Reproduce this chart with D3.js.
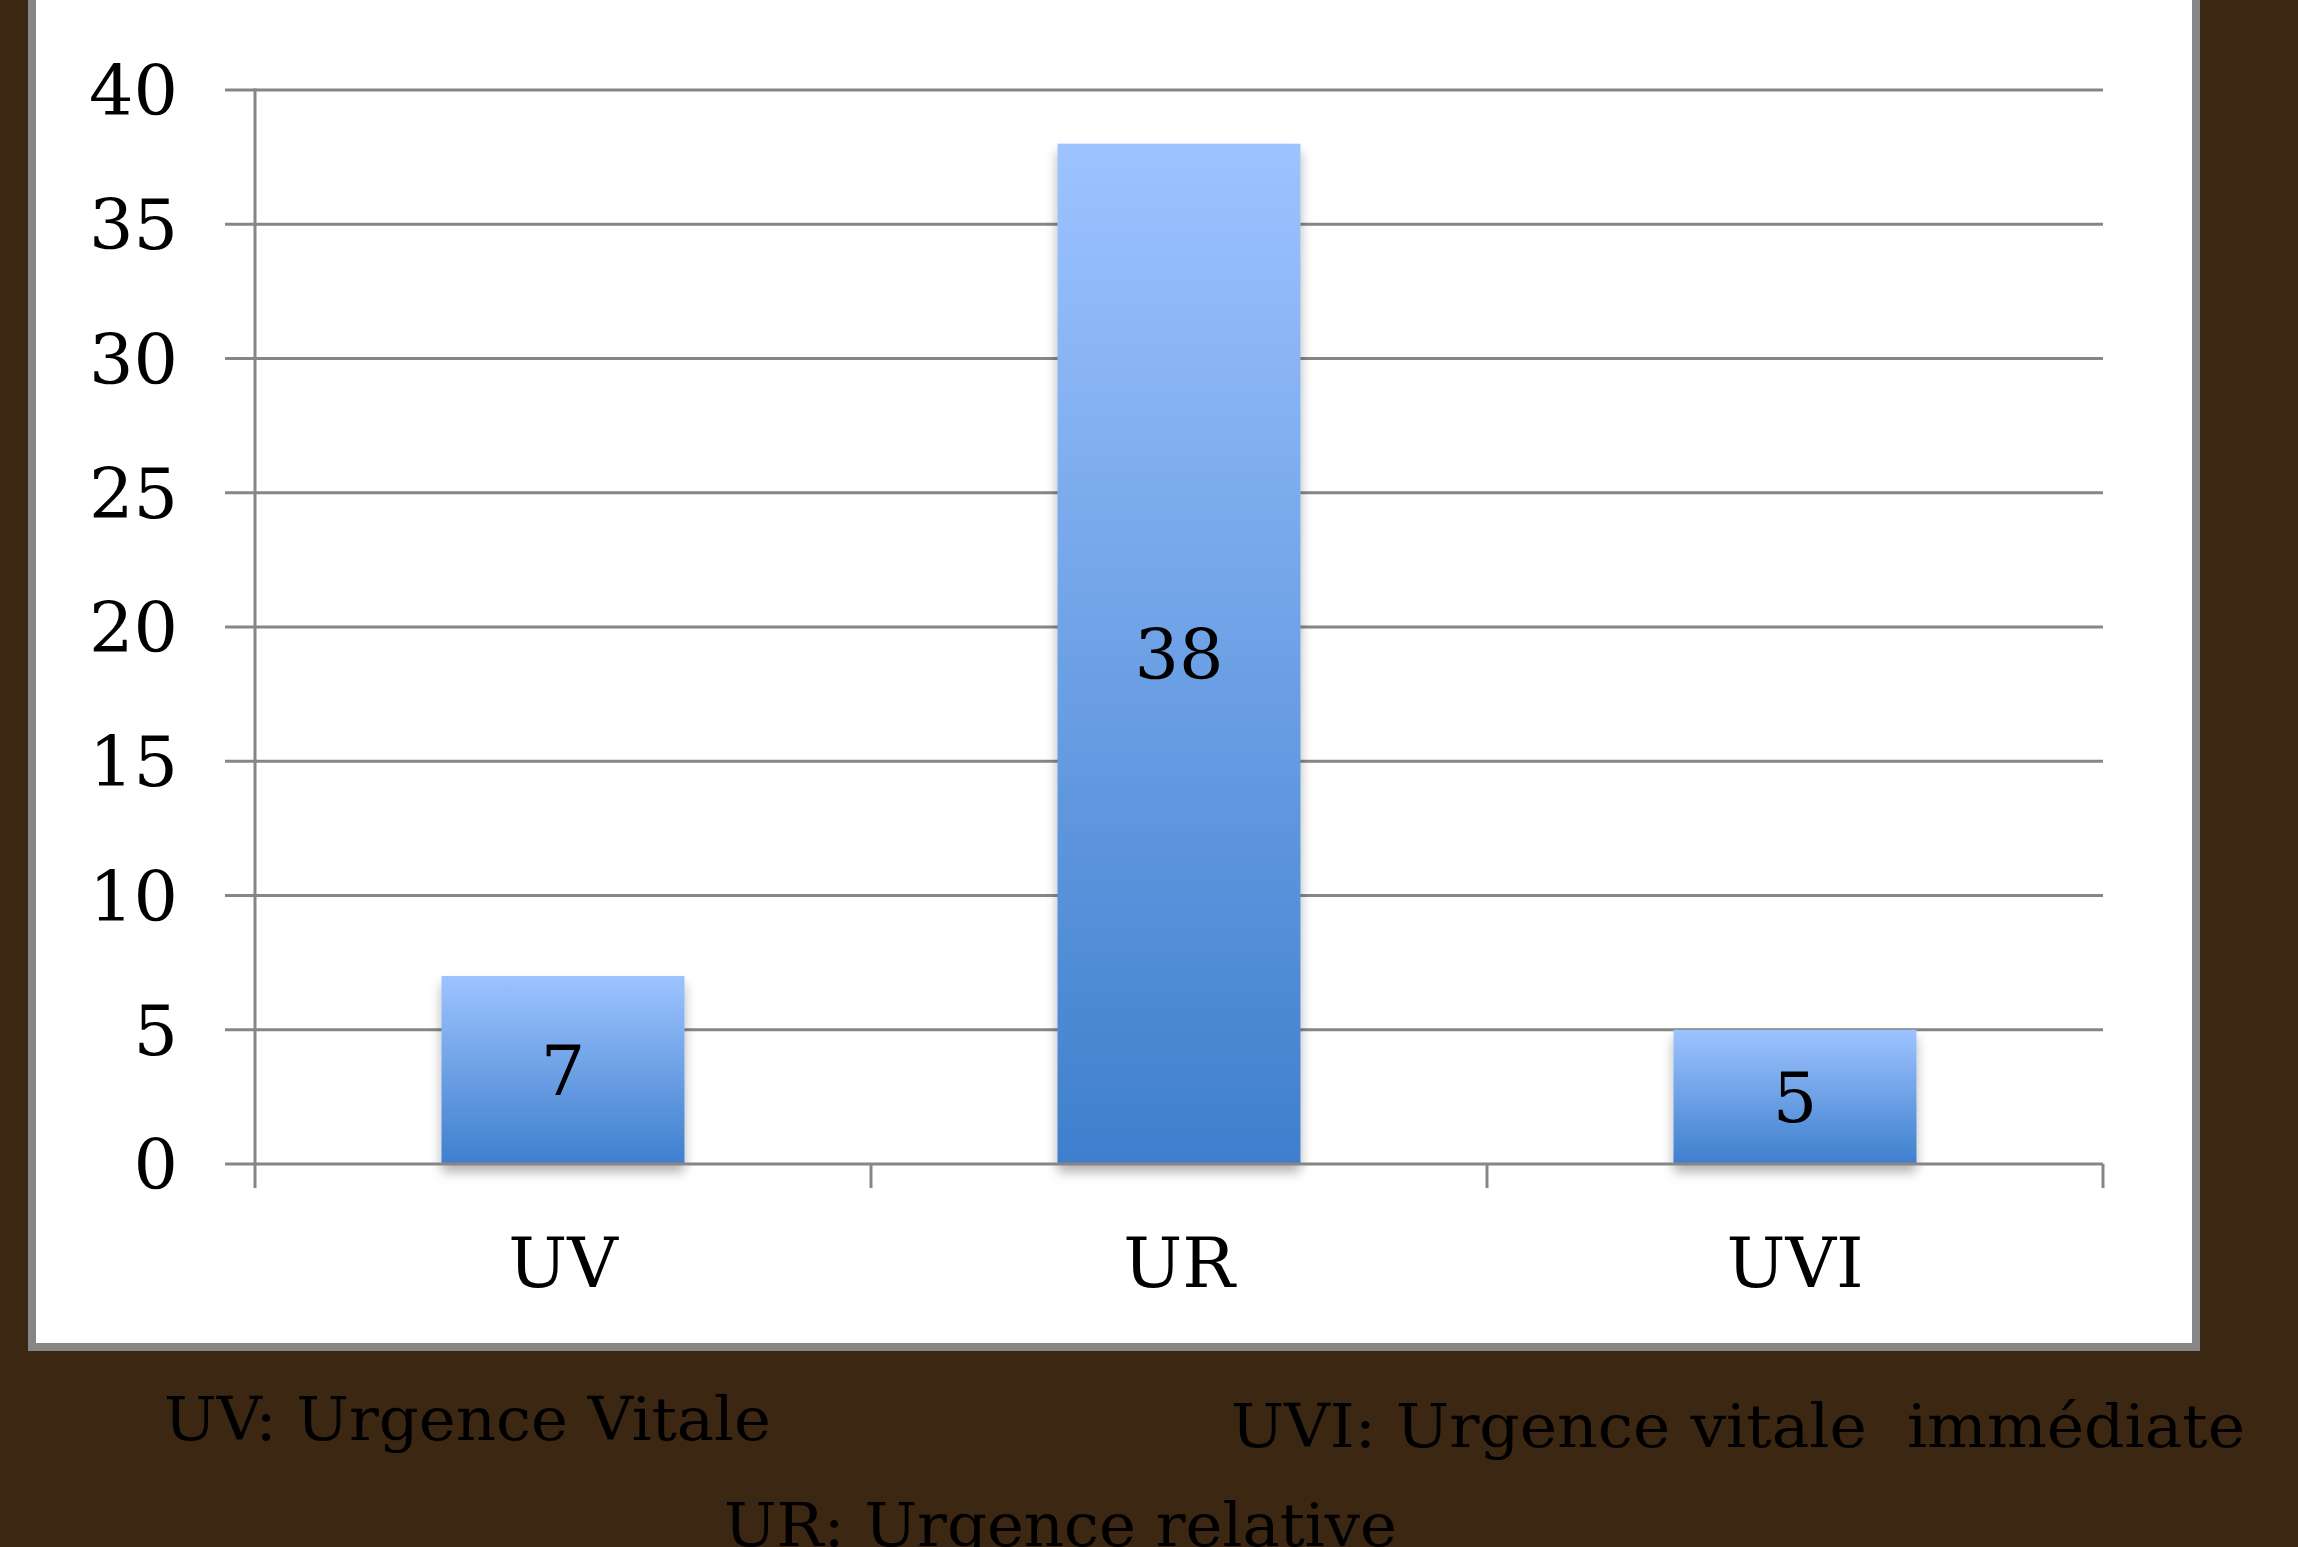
<!DOCTYPE html>
<html>
<head>
<meta charset="utf-8">
<script src="https://cdn.jsdelivr.net/npm/d3@7"></script>
<style>
  html, body { margin: 0; padding: 0; background: #3B2712; overflow: hidden; }
  svg { display: block; }
  text { white-space: pre; }
</style>
</head>
<body>
<script>
const categories = ["UV", "UR", "UVI"];
const values = [7, 38, 5];
const yTicks = [0, 5, 10, 15, 20, 25, 30, 35, 40];
const notes = ["UV: Urgence Vitale", "UVI: Urgence vitale  immédiate", "UR: Urgence relative"];

const W = 2298, H = 1547;
const svg = d3.select("body").append("svg").attr("width", W).attr("height", H);

const defs = svg.append("defs");
const grad = defs.append("linearGradient").attr("id", "barGrad")
  .attr("x1", 0).attr("y1", 0).attr("x2", 0).attr("y2", 1);
grad.append("stop").attr("offset", "0%").attr("stop-color", "#9DC3FF");
grad.append("stop").attr("offset", "100%").attr("stop-color", "#3E7FCD");

const flt = defs.append("filter").attr("id", "shadow")
  .attr("x", "-30%").attr("y", "-30%").attr("width", "160%").attr("height", "160%");
flt.append("feDropShadow").attr("dx", 0).attr("dy", 8).attr("stdDeviation", 6)
  .attr("flood-color", "#000").attr("flood-opacity", 0.3);

// background
svg.append("rect").attr("x", 0).attr("y", 0).attr("width", W).attr("height", H).attr("fill", "#3B2712");
// white panel
svg.append("rect").attr("x", 32).attr("y", -20).attr("width", 2164).attr("height", 1367)
  .attr("fill", "#fff").attr("stroke", "#868686").attr("stroke-width", 8);

const plotLeft = 255, plotRight = 2103, plotTop = 90, plotBottom = 1164;
const y = d3.scaleLinear().domain([0, 40]).range([plotBottom, plotTop]);
const x = d3.scaleBand().domain(categories).range([plotLeft, plotRight])
  .paddingInner(0.6055).paddingOuter(0.30275);

const gridColor = "#868686";
const chartFont = "'DejaVu Serif', serif";

// gridlines (including left tick stubs)
svg.append("g").selectAll("line").data(yTicks.filter(d => d > 0)).join("line")
  .attr("x1", plotLeft - 30).attr("x2", plotRight)
  .attr("y1", d => y(d)).attr("y2", d => y(d))
  .attr("stroke", gridColor).attr("stroke-width", 3);

// bars
svg.append("g").selectAll("rect").data(values).join("rect")
  .attr("x", (d, i) => x(categories[i]))
  .attr("width", x.bandwidth())
  .attr("y", d => y(d))
  .attr("height", d => y(0) - y(d))
  .attr("fill", "url(#barGrad)")
  .attr("filter", "url(#shadow)");

// x axis line
svg.append("line").attr("x1", plotLeft - 30).attr("x2", plotRight)
  .attr("y1", y(0)).attr("y2", y(0)).attr("stroke", gridColor).attr("stroke-width", 3);
// y axis line
svg.append("line").attr("x1", plotLeft).attr("x2", plotLeft)
  .attr("y1", y(40) - 1.5).attr("y2", y(0) + 24).attr("stroke", gridColor).attr("stroke-width", 3);
// x category boundary ticks
const bounds = d3.range(categories.length + 1).map(i => plotLeft + i * x.step());
svg.append("g").selectAll("line").data(bounds.slice(1)).join("line")
  .attr("x1", d => d).attr("x2", d => d)
  .attr("y1", y(0)).attr("y2", y(0) + 24)
  .attr("stroke", gridColor).attr("stroke-width", 3);

// y tick labels
svg.append("g").selectAll("text").data(yTicks).join("text")
  .attr("x", 178).attr("y", d => y(d))
  .attr("dy", "0.36em")
  .attr("text-anchor", "end")
  .attr("font-family", chartFont).attr("font-size", 70).attr("fill", "#000")
  .text(d => d);

// x labels
svg.append("g").selectAll("text").data(categories).join("text")
  .attr("x", d => x(d) + x.bandwidth() / 2).attr("y", 1287)
  .attr("text-anchor", "middle")
  .attr("font-family", chartFont).attr("font-size", 70).attr("fill", "#000")
  .text(d => d);

// data labels
svg.append("g").selectAll("text").data(values).join("text")
  .attr("x", (d, i) => x(categories[i]) + x.bandwidth() / 2)
  .attr("y", d => (y(d) + y(0)) / 2)
  .attr("dy", "0.36em")
  .attr("text-anchor", "middle")
  .attr("font-family", chartFont).attr("font-size", 70).attr("fill", "#000")
  .text(d => d);

// notes under the chart
const notePos = [
  { x: 164, y: 1440, w: 607 },
  { x: 1231, y: 1447, w: 1014 },
  { x: 724, y: 1546, w: 673 }
];
svg.append("g").selectAll("text").data(notes).join("text")
  .attr("x", (d, i) => notePos[i].x).attr("y", (d, i) => notePos[i].y)
  .attr("textLength", (d, i) => notePos[i].w)
  .attr("lengthAdjust", "spacingAndGlyphs")
  .attr("font-family", chartFont).attr("font-size", 59).attr("fill", "#000")
  .text(d => d);
</script>
</body>
</html>
